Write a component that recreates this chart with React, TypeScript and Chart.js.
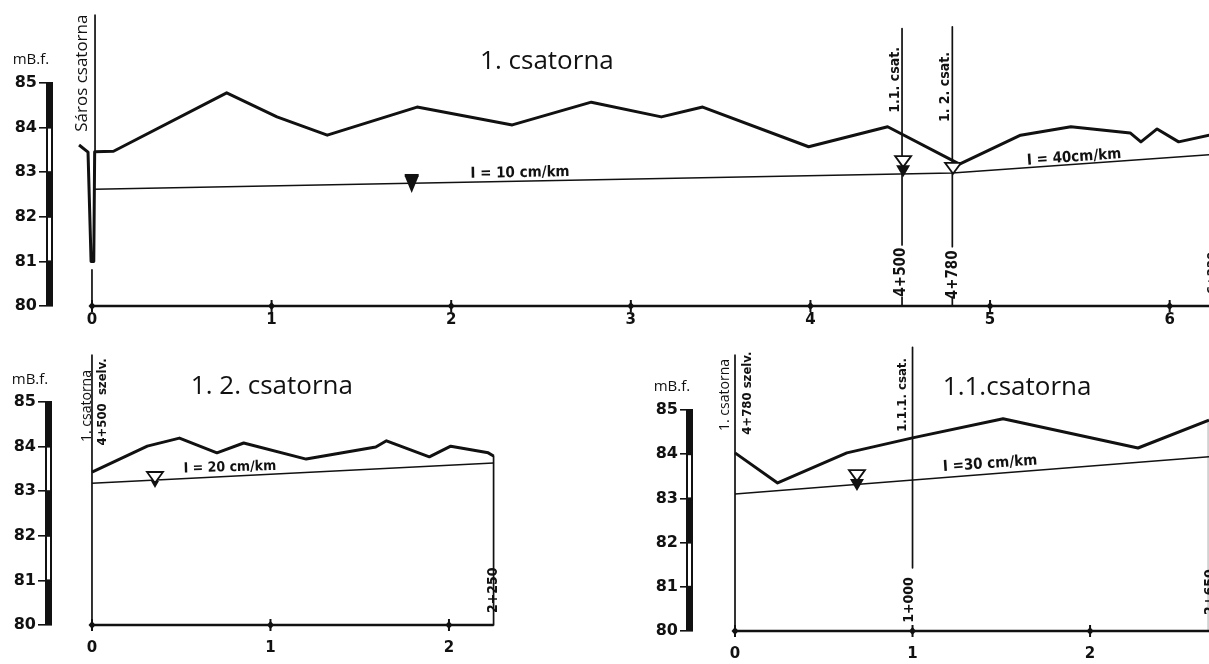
import React, { useEffect, useRef } from 'react';
import { Chart, registerables } from 'chart.js';
Chart.register(...registerables);

// ---------- data ----------
const elevTicks = [80, 81, 82, 83, 84, 85];

// 1. csatorna (main channel)
const mainKm = [-0.072, -0.022, -0.005, 0.01, 0.015, 0.12, 0.75, 1.03, 1.31, 1.81, 2.34, 2.78, 3.17, 3.40, 3.99, 4.43, 4.83, 5.17, 5.45, 5.78, 5.84, 5.93, 6.05, 6.22];
const mainGround = [83.61, 83.45, 81.0, 81.0, 83.46, 83.47, 84.78, 84.24, 83.83, 84.46, 84.06, 84.57, 84.24, 84.46, 83.57, 84.02, 83.18, 83.83, 84.02, 83.88, 83.68, 83.97, 83.68, 83.83];
const mainWaterKm = [0.015, 4.79, 6.22];
const mainWater = [82.62, 82.98, 83.39];
const mainKmTicks = [0, 1, 2, 3, 4, 5, 6];

// 1.2. csatorna
const ch12Km = [0, 0.31, 0.49, 0.70, 0.85, 1.20, 1.59, 1.65, 1.89, 2.01, 2.22, 2.25];
const ch12Ground = [83.43, 84.01, 84.19, 83.86, 84.08, 83.72, 83.99, 84.13, 83.77, 84.01, 83.86, 83.79];
const ch12WaterKm = [0, 2.25];
const ch12Water = [83.18, 83.63];
const ch12KmTicks = [0, 1, 2];

// 1.1. csatorna
const ch11Km = [0, 0.24, 0.63, 1.0, 1.51, 2.27, 2.67];
const ch11Ground = [84.03, 83.35, 84.03, 84.37, 84.80, 84.14, 84.77];
const ch11WaterKm = [0, 2.67];
const ch11Water = [83.10, 83.94];
const ch11KmTicks = [0, 1, 2];

// ---------- styling ----------
const INK = '#111111';
const SANS = "'Open Sans', 'Noto Sans', sans-serif";
const COND = "'DejaVu Sans Condensed', 'DejaVu Sans', sans-serif";
const DEJ = "'DejaVu Sans', sans-serif";

type Vert = { x: number; y0: number; y1: number; w?: number; color?: string };
type Txt = { x: number; y: number; text: string; rot: number; font: string };
type Mark = { x: number; y: number; kind: 'filled' | 'open' | 'openFilled' | 'openTip' };
type Panel = {
  left: number; top: number; w: number; h: number;
  padTop: number; yAxisW: number; xAxisH: number; xMin: number; xMax: number;
  xLabelPad: number; tickLen: number; barW: number;
  groundKm: number[]; ground: number[]; waterKm: number[]; water: number[];
  kmTicks: number[]; axisEnd: number;
  verts: Vert[]; texts: Txt[]; marks: Mark[];
};

const panels: Panel[] = [
  {
    left: 0, top: 0, w: 1209, h: 340,
    padTop: 83, yAxisW: 53, xAxisH: 34, xMin: -0.217, xMax: 6.219,
    xLabelPad: 5, tickLen: 14, barW: 7,
    groundKm: mainKm, ground: mainGround, waterKm: mainWaterKm, water: mainWater,
    kmTicks: mainKmTicks, axisEnd: 6.22,
    verts: [
      { x: 0.017, y0: 86.52, y1: 83.46 },
      { x: 0, y0: 80.81, y1: 80 },
      { x: 4.51, y0: 86.22, y1: 81.37 },
      { x: 4.51, y0: 80.2, y1: 80 },
      { x: 4.79, y0: 86.26, y1: 81.33 },
      { x: 4.79, y0: 80.2, y1: 80 },
    ],
    texts: [
      { x: -0.34, y: 85.52, text: 'mB.f.', rot: 0, font: `15px ${SANS}` },
      { x: 2.533, y: 85.47, text: '1. csatorna', rot: 0, font: `26px ${SANS}` },
      { x: -0.056, y: 85.22, text: 'Sáros csatorna', rot: -90, font: `17px ${SANS}` },
      { x: 4.471, y: 85.07, text: '1.1. csat.', rot: -90, font: `bold 14px ${COND}` },
      { x: 4.749, y: 84.91, text: '1. 2. csat.', rot: -90, font: `bold 14px ${COND}` },
      { x: 4.504, y: 80.76, text: '4+500', rot: -90, font: `bold 15px ${COND}` },
      { x: 4.794, y: 80.70, text: '4+780', rot: -90, font: `bold 15px ${COND}` },
      { x: 6.24, y: 80.74, text: '6+220', rot: -90, font: `bold 13px ${COND}` },
      { x: 2.383, y: 82.98, text: 'I = 10 cm/km', rot: -1, font: `bold 15px ${COND}` },
      { x: 5.468, y: 83.33, text: 'I = 40cm/km', rot: -4, font: `bold 15px ${COND}` },
    ],
    marks: [
      { x: 1.78, y: 82.96, kind: 'filled' },
      { x: 4.516, y: 83.36, kind: 'openFilled' },
      { x: 4.794, y: 83.21, kind: 'open' },
    ],
  },
  {
    left: 0, top: 330, w: 520, h: 334,
    padTop: 72, yAxisW: 52, xAxisH: 39, xMin: -0.224, xMax: 2.398,
    xLabelPad: 14, tickLen: 14, barW: 7,
    groundKm: ch12Km, ground: ch12Ground, waterKm: ch12WaterKm, water: ch12Water,
    kmTicks: ch12KmTicks, axisEnd: 2.25,
    verts: [
      { x: 0, y0: 86.05, y1: 80 },
      { x: 2.25, y0: 83.79, y1: 80 },
    ],
    texts: [
      { x: -0.347, y: 85.49, text: 'mB.f.', rot: 0, font: `15px ${SANS}` },
      { x: 1.008, y: 85.34, text: '1. 2. csatorna', rot: 0, font: `26px ${SANS}` },
      { x: -0.028, y: 84.91, text: '1. csatorna', rot: -90, font: `14px ${SANS}` },
      { x: 0.062, y: 85.0, text: '4+500  szelv.', rot: -90, font: `bold 13px ${COND}` },
      { x: 2.246, y: 80.78, text: '2+250', rot: -90, font: `bold 14px ${COND}` },
      { x: 0.773, y: 83.53, text: 'I = 20 cm/km', rot: -1.5, font: `bold 14px ${COND}` },
    ],
    marks: [{ x: 0.353, y: 83.43, kind: 'openTip' }],
  },
  {
    left: 640, top: 330, w: 569, h: 334,
    padTop: 80, yAxisW: 53, xAxisH: 33, xMin: -0.2366, xMax: 2.67,
    xLabelPad: 14, tickLen: 13, barW: 7,
    groundKm: ch11Km, ground: ch11Ground, waterKm: ch11WaterKm, water: ch11Water,
    kmTicks: ch11KmTicks, axisEnd: 2.67,
    verts: [
      { x: 0, y0: 86.24, y1: 80 },
      { x: 1.0, y0: 86.42, y1: 81.43 },
      { x: 2.665, y0: 84.77, y1: 80, w: 1, color: '#cfcfcf' },
    ],
    texts: [
      { x: -0.355, y: 85.52, text: 'mB.f.', rot: 0, font: `15px ${SANS}` },
      { x: 1.589, y: 85.50, text: '1.1.csatorna', rot: 0, font: `26px ${SANS}` },
      { x: -0.056, y: 85.34, text: '1. csatorna', rot: -90, font: `14px ${SANS}` },
      { x: 0.073, y: 85.38, text: '4+780 szelv.', rot: -90, font: `bold 13px ${COND}` },
      { x: 0.946, y: 85.34, text: '1.1.1. csat.', rot: -90, font: `bold 13px ${COND}` },
      { x: 0.98, y: 80.70, text: '1+000', rot: -90, font: `bold 14px ${COND}` },
      { x: 2.676, y: 80.88, text: '2+650', rot: -90, font: `bold 14px ${COND}` },
      { x: 1.437, y: 83.78, text: 'I =30 cm/km', rot: -4, font: `bold 15px ${COND}` },
    ],
    marks: [{ x: 0.687, y: 83.64, kind: 'openFilled' }],
  },
];

function drawMarker(ctx: CanvasRenderingContext2D, px: number, py: number, kind: Mark['kind']) {
  ctx.save();
  ctx.fillStyle = INK;
  ctx.strokeStyle = INK;
  ctx.lineWidth = 1.8;
  ctx.lineJoin = 'miter';
  if (kind === 'filled') {
    ctx.fillRect(px - 7, py, 14, 2.5);
    ctx.beginPath();
    ctx.moveTo(px - 7, py + 2);
    ctx.lineTo(px + 7, py + 2);
    ctx.lineTo(px, py + 19);
    ctx.closePath();
    ctx.fill();
  } else {
    ctx.beginPath();
    ctx.moveTo(px - 8, py);
    ctx.lineTo(px + 8, py);
    ctx.lineTo(px, py + 11);
    ctx.closePath();
    ctx.fillStyle = '#fff';
    ctx.fill();
    ctx.stroke();
    ctx.fillStyle = INK;
    if (kind === 'openFilled') {
      ctx.beginPath();
      ctx.moveTo(px - 7, py + 9);
      ctx.lineTo(px + 7, py + 9);
      ctx.lineTo(px, py + 21);
      ctx.closePath();
      ctx.fill();
    } else if (kind === 'openTip') {
      ctx.beginPath();
      ctx.moveTo(px - 4, py + 9);
      ctx.lineTo(px + 4, py + 9);
      ctx.lineTo(px, py + 16);
      ctx.closePath();
      ctx.fill();
    }
  }
  ctx.restore();
}

function buildConfig(p: Panel): any {
  const pts = (xs: number[], ys: number[]) => xs.map((x, i) => ({ x, y: ys[i] }));
  const base = { showLine: true, pointRadius: 0, fill: false, clip: false, tension: 0, borderColor: INK, borderJoinStyle: 'round', borderCapStyle: 'butt' };
  const datasets: any[] = [
    { ...base, data: pts(p.groundKm, p.ground), borderWidth: 3 },
    { ...base, data: pts(p.waterKm, p.water), borderWidth: 1.5 },
    { ...base, data: [{ x: 0, y: 80 }, { x: p.axisEnd, y: 80 }], borderWidth: 2.4 },
    ...p.verts.map((v) => ({ ...base, data: [{ x: v.x, y: v.y0 }, { x: v.x, y: v.y1 }], borderWidth: v.w ?? 1.7, borderColor: v.color ?? INK })),
  ];

  const decor = {
    id: 'profileDecor',
    afterDatasetsDraw(chart: any) {
      const ctx: CanvasRenderingContext2D = chart.ctx;
      const xs = chart.scales.x;
      const ys = chart.scales.y;
      const ca = chart.chartArea;
      ctx.save();
      // elevation scale bar
      const bl = ca.left - p.barW;
      for (let v = 80; v < 85; v++) {
        const yt = ys.getPixelForValue(v + 1);
        const yb = ys.getPixelForValue(v);
        if (v % 2 === 0) {
          ctx.fillStyle = INK;
          ctx.fillRect(bl, yt, p.barW, yb - yt);
        } else {
          ctx.fillStyle = '#fff';
          ctx.fillRect(bl, yt, p.barW, yb - yt);
          ctx.strokeStyle = INK;
          ctx.lineWidth = 2;
          ctx.strokeRect(bl + 1, yt, p.barW - 2, yb - yt);
        }
      }
      // km tick crosses
      const ay = ys.getPixelForValue(80);
      ctx.fillStyle = INK;
      ctx.strokeStyle = INK;
      for (const v of p.kmTicks) {
        const x = xs.getPixelForValue(v);
        ctx.lineWidth = 2;
        ctx.beginPath();
        ctx.moveTo(x, ay - 6);
        ctx.lineTo(x, ay + 6);
        ctx.stroke();
        ctx.beginPath();
        ctx.moveTo(x - 3.5, ay);
        ctx.lineTo(x, ay - 4);
        ctx.lineTo(x + 3.5, ay);
        ctx.lineTo(x, ay + 4);
        ctx.closePath();
        ctx.fill();
      }
      // water level markers
      for (const m of p.marks) {
        drawMarker(ctx, xs.getPixelForValue(m.x), ys.getPixelForValue(m.y), m.kind);
      }
      // texts
      for (const t of p.texts) {
        ctx.save();
        ctx.translate(xs.getPixelForValue(t.x), ys.getPixelForValue(t.y));
        ctx.rotate((t.rot * Math.PI) / 180);
        ctx.font = t.font;
        ctx.fillStyle = INK;
        ctx.textAlign = 'center';
        ctx.textBaseline = 'middle';
        ctx.fillText(t.text, 0, 0);
        ctx.restore();
      }
      ctx.restore();
    },
  };

  return {
    type: 'scatter',
    data: { datasets },
    options: {
      animation: false,
      responsive: false,
      maintainAspectRatio: false,
      layout: { padding: { top: p.padTop, left: 0, right: 0, bottom: 0 } },
      plugins: { legend: { display: false }, tooltip: { enabled: false }, title: { display: false } },
      events: [],
      scales: {
        x: {
          type: 'linear',
          min: p.xMin,
          max: p.xMax,
          afterFit: (s: any) => { s.height = p.xAxisH; },
          afterBuildTicks: (s: any) => { s.ticks = p.kmTicks.map((v) => ({ value: v })); },
          grid: { display: false, drawTicks: false },
          border: { display: false },
          ticks: { autoSkip: false, maxRotation: 0, padding: p.xLabelPad, color: INK, font: { family: DEJ, size: 15, weight: 'bold' } },
        },
        y: {
          type: 'linear',
          min: 80,
          max: 85,
          afterFit: (s: any) => { s.width = p.yAxisW; },
          afterBuildTicks: (s: any) => { s.ticks = elevTicks.map((v) => ({ value: v })); },
          grid: { display: true, drawOnChartArea: false, drawTicks: true, tickLength: p.tickLen, color: INK, lineWidth: 1.6 },
          border: { display: false },
          ticks: { padding: 2, color: INK, font: { family: DEJ, size: 16, weight: 'bold' } },
        },
      },
    },
    plugins: [decor],
  };
}

function ProfileChart({ spec }: { spec: Panel }) {
  const ref = useRef<HTMLCanvasElement>(null);
  useEffect(() => {
    const chart = new Chart(ref.current as HTMLCanvasElement, buildConfig(spec));
    return () => chart.destroy();
  }, [spec]);
  return (
    <canvas
      ref={ref}
      width={spec.w}
      height={spec.h}
      style={{ position: 'absolute', left: spec.left, top: spec.top, width: spec.w, height: spec.h }}
    />
  );
}

export default function App() {
  return (
    <div style={{ position: 'absolute', left: 0, top: 0, width: 1209, height: 664, overflow: 'hidden', background: '#fff' }}>
      {panels.map((p, i) => (
        <ProfileChart key={i} spec={p} />
      ))}
    </div>
  );
}
